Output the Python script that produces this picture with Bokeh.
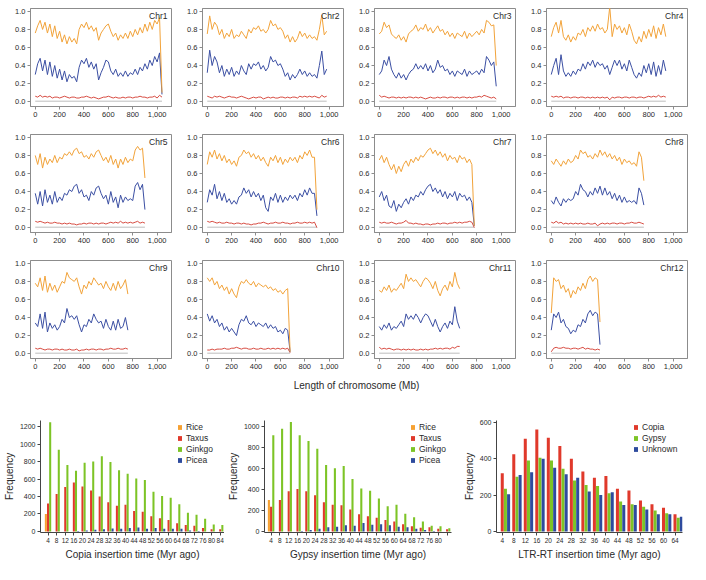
import numpy as np
from bokeh.plotting import figure
from bokeh.models import (ColumnDataSource, FixedTicker, PrintfTickFormatter,
                          NumeralTickFormatter, Label, Range1d, Legend, LegendItem)
from bokeh.layouts import column, row
from bokeh.embed import file_html
from bokeh.resources import INLINE
from bokeh.transform import dodge

FONT = "Liberation Sans"

# ---------------- Panel a data (20 Mb windows) ----------------
bin_mb = 20
chr_names = ["Chr1", "Chr2", "Chr3", "Chr4", "Chr5", "Chr6",
             "Chr7", "Chr8", "Chr9", "Chr10", "Chr11", "Chr12"]

chr1_orange = [0.76,0.84,0.90,0.80,0.88,0.76,0.86,0.72,0.84,0.70,0.78,0.66,0.74,0.64,0.72,0.66,0.70,0.64,0.80,0.86,
               0.82,0.88,0.80,0.84,0.78,0.82,0.68,0.76,0.80,0.84,0.86,0.78,0.72,0.76,0.68,0.74,0.70,0.76,0.70,0.78,
               0.72,0.80,0.74,0.82,0.76,0.86,0.78,0.88,0.80,0.90,0.86,0.93,0.10]
chr1_blue = [0.30,0.42,0.48,0.34,0.46,0.30,0.44,0.28,0.40,0.26,0.36,0.24,0.34,0.22,0.30,0.26,0.28,0.22,0.38,0.46,
             0.42,0.48,0.38,0.44,0.36,0.42,0.24,0.32,0.38,0.46,0.44,0.34,0.30,0.36,0.28,0.32,0.28,0.34,0.28,0.32,
             0.30,0.36,0.30,0.38,0.34,0.42,0.36,0.46,0.40,0.50,0.44,0.54,0.08]
chr1_red = [0.06,0.05,0.07,0.05,0.06,0.05,0.06,0.04,0.05,0.05,0.04,0.05,0.06,0.05,0.04,0.05,0.05,0.04,0.04,0.05,
            0.05,0.06,0.05,0.04,0.05,0.04,0.03,0.04,0.05,0.05,0.06,0.05,0.04,0.05,0.04,0.04,0.05,0.04,0.05,0.05,
            0.04,0.05,0.05,0.06,0.05,0.05,0.04,0.05,0.05,0.06,0.04,0.07,0.05]

chr2_orange = [0.75,0.95,0.80,0.88,0.84,0.74,0.80,0.70,0.76,0.72,0.80,0.70,0.74,0.72,0.78,0.74,0.70,0.80,0.76,0.82,
               0.80,0.84,0.78,0.80,0.76,0.80,0.90,0.84,0.86,0.80,0.82,0.78,0.70,0.74,0.66,0.72,0.66,0.70,0.78,0.72,
               0.76,0.70,0.74,0.70,0.72,0.68,0.80,0.96,0.74,0.78]
chr2_blue = [0.32,0.57,0.40,0.50,0.44,0.32,0.40,0.28,0.36,0.30,0.38,0.28,0.34,0.30,0.40,0.34,0.30,0.42,0.36,0.42,
             0.40,0.44,0.36,0.40,0.34,0.38,0.50,0.44,0.46,0.40,0.42,0.36,0.28,0.32,0.24,0.30,0.26,0.30,0.36,0.30,
             0.34,0.28,0.32,0.28,0.30,0.26,0.40,0.56,0.30,0.36]
chr2_red = [0.06,0.05,0.04,0.06,0.05,0.06,0.05,0.04,0.05,0.06,0.05,0.05,0.04,0.05,0.06,0.05,0.04,0.03,0.04,0.05,
            0.04,0.05,0.05,0.03,0.04,0.05,0.04,0.05,0.04,0.04,0.05,0.05,0.04,0.05,0.04,0.05,0.05,0.04,0.06,0.05,
            0.06,0.05,0.06,0.05,0.06,0.05,0.04,0.07,0.05,0.06]

chr3_orange = [0.75,0.78,0.88,0.82,0.85,0.75,0.72,0.70,0.74,0.68,0.72,0.66,0.75,0.78,0.80,0.85,0.78,0.82,0.80,0.86,
               0.78,0.82,0.76,0.80,0.84,0.78,0.80,0.74,0.78,0.72,0.76,0.70,0.76,0.74,0.72,0.78,0.70,0.76,0.72,0.75,
               0.78,0.74,0.80,0.76,0.90,0.88,0.84,0.85,0.40]
chr3_blue = [0.30,0.34,0.46,0.40,0.50,0.36,0.30,0.26,0.32,0.26,0.30,0.24,0.30,0.34,0.36,0.42,0.36,0.40,0.36,0.42,
             0.34,0.40,0.32,0.36,0.46,0.38,0.40,0.34,0.36,0.30,0.34,0.28,0.34,0.32,0.30,0.36,0.28,0.34,0.30,0.32,
             0.34,0.30,0.36,0.32,0.50,0.46,0.40,0.44,0.17]
chr3_red = [0.07,0.05,0.06,0.05,0.04,0.05,0.05,0.04,0.05,0.04,0.05,0.04,0.05,0.05,0.04,0.05,0.04,0.05,0.04,0.03,
            0.04,0.05,0.04,0.04,0.05,0.04,0.05,0.05,0.04,0.05,0.05,0.04,0.05,0.04,0.05,0.05,0.04,0.05,0.04,0.05,
            0.05,0.06,0.05,0.07,0.06,0.05,0.04,0.05,0.03]

chr4_orange = [0.72,0.82,0.88,0.76,0.90,0.72,0.68,0.74,0.66,0.72,0.68,0.76,0.74,0.80,0.72,0.82,0.78,0.84,0.78,0.86,
               0.80,0.82,0.76,0.80,1.05,0.72,0.86,0.80,0.84,0.76,0.82,0.74,0.86,0.78,0.68,0.64,0.72,0.66,0.78,0.70,
               0.80,0.72,0.84,0.70,0.82,0.74,0.86,0.72]
chr4_blue = [0.30,0.40,0.48,0.30,0.52,0.34,0.28,0.32,0.28,0.34,0.30,0.36,0.34,0.42,0.36,0.44,0.40,0.46,0.38,0.44,
             0.40,0.42,0.36,0.40,0.30,0.38,0.46,0.40,0.46,0.36,0.42,0.34,0.46,0.38,0.30,0.26,0.32,0.28,0.40,0.32,
             0.42,0.30,0.44,0.28,0.40,0.30,0.46,0.34]
chr4_red = [0.06,0.05,0.06,0.05,0.06,0.04,0.05,0.05,0.04,0.05,0.05,0.04,0.05,0.05,0.04,0.05,0.04,0.05,0.04,0.05,
            0.04,0.05,0.04,0.05,0.02,0.05,0.04,0.05,0.05,0.04,0.05,0.05,0.04,0.05,0.05,0.04,0.05,0.05,0.04,0.05,
            0.06,0.05,0.06,0.05,0.07,0.05,0.06,0.05]

chr5_orange = [0.80,0.70,0.82,0.66,0.78,0.70,0.76,0.72,0.80,0.72,0.78,0.76,0.82,0.80,0.84,0.80,0.86,0.88,0.82,0.84,
               0.78,0.80,0.76,0.82,0.78,0.84,0.86,0.80,0.74,0.78,0.72,0.80,0.70,0.76,0.66,0.76,0.70,0.78,0.72,0.76,
               0.74,0.86,0.90,0.86,0.88,0.55]
chr5_blue = [0.38,0.26,0.40,0.24,0.42,0.28,0.36,0.26,0.40,0.28,0.34,0.30,0.38,0.36,0.42,0.40,0.46,0.48,0.38,0.42,
             0.34,0.36,0.30,0.40,0.36,0.44,0.46,0.38,0.32,0.36,0.26,0.40,0.28,0.34,0.22,0.36,0.28,0.34,0.30,0.32,
             0.30,0.46,0.50,0.42,0.48,0.20]
chr5_red = [0.07,0.06,0.07,0.06,0.05,0.06,0.05,0.05,0.06,0.05,0.05,0.04,0.05,0.04,0.05,0.04,0.04,0.03,0.04,0.04,
            0.05,0.04,0.05,0.05,0.04,0.05,0.04,0.05,0.05,0.04,0.05,0.06,0.05,0.06,0.05,0.07,0.05,0.06,0.05,0.06,
            0.05,0.06,0.07,0.05,0.06,0.05]

chr6_orange = [0.70,0.84,0.78,0.86,0.76,0.82,0.74,0.80,0.72,0.76,0.70,0.74,0.68,0.78,0.80,0.86,0.82,0.84,0.78,0.82,
               0.76,0.80,0.74,0.78,0.72,0.68,0.78,0.74,0.80,0.72,0.78,0.70,0.76,0.72,0.78,0.74,0.78,0.72,0.80,0.76,
               0.84,0.80,0.86,0.78,0.78,0.20]
chr6_blue = [0.28,0.42,0.36,0.48,0.32,0.40,0.30,0.38,0.28,0.32,0.26,0.30,0.26,0.34,0.36,0.44,0.38,0.42,0.34,0.40,
             0.34,0.38,0.30,0.36,0.22,0.18,0.34,0.30,0.38,0.28,0.36,0.28,0.34,0.30,0.36,0.32,0.36,0.30,0.38,0.34,
             0.42,0.36,0.44,0.38,0.38,0.13]
chr6_red = [0.07,0.06,0.07,0.06,0.05,0.06,0.05,0.05,0.06,0.05,0.05,0.04,0.05,0.05,0.04,0.05,0.04,0.04,0.03,0.04,
            0.04,0.05,0.05,0.06,0.05,0.04,0.05,0.05,0.06,0.05,0.05,0.06,0.05,0.05,0.04,0.05,0.05,0.06,0.05,0.05,
            0.06,0.05,0.06,0.05,0.06,0.00]

chr7_orange = [0.75,0.80,0.72,0.78,0.70,0.64,0.70,0.60,0.68,0.62,0.70,0.74,0.68,0.76,0.72,0.78,0.74,0.80,0.78,0.82,
               0.86,0.88,0.82,0.86,0.80,0.84,0.78,0.82,0.74,0.80,0.76,0.78,0.72,0.80,0.76,0.78,0.72,0.76,0.70,0.02]
chr7_blue = [0.34,0.40,0.30,0.36,0.24,0.22,0.30,0.18,0.26,0.22,0.28,0.32,0.26,0.34,0.30,0.36,0.34,0.40,0.36,0.42,
             0.46,0.48,0.40,0.44,0.38,0.42,0.34,0.40,0.32,0.38,0.34,0.40,0.30,0.38,0.34,0.36,0.30,0.34,0.28,0.02]
chr7_red = [0.06,0.05,0.06,0.05,0.05,0.06,0.05,0.04,0.05,0.05,0.06,0.08,0.05,0.05,0.04,0.05,0.04,0.04,0.03,0.04,
            0.04,0.03,0.04,0.04,0.05,0.04,0.05,0.05,0.04,0.05,0.05,0.06,0.05,0.06,0.05,0.06,0.06,0.07,0.06,0.00]

chr8_orange = [0.74,0.70,0.76,0.72,0.68,0.74,0.70,0.76,0.72,0.74,0.80,0.76,0.86,0.82,0.84,0.78,0.80,0.76,0.82,0.78,
               0.86,0.80,0.84,0.78,0.82,0.76,0.80,0.74,0.78,0.70,0.76,0.72,0.74,0.70,0.72,0.68,0.84,0.78,0.52]
chr8_blue = [0.30,0.26,0.34,0.28,0.24,0.32,0.28,0.32,0.30,0.32,0.40,0.36,0.48,0.42,0.40,0.34,0.40,0.36,0.44,0.38,
             0.46,0.36,0.44,0.36,0.40,0.32,0.38,0.30,0.36,0.28,0.34,0.28,0.30,0.28,0.30,0.26,0.44,0.38,0.25]
chr8_red = [0.06,0.05,0.07,0.05,0.06,0.04,0.05,0.04,0.05,0.04,0.05,0.04,0.05,0.04,0.04,0.05,0.04,0.04,0.05,0.02,
            0.04,0.05,0.04,0.05,0.04,0.05,0.05,0.04,0.05,0.05,0.04,0.05,0.05,0.06,0.05,0.05,0.06,0.05,0.04]

chr9_orange = [0.78,0.74,0.84,0.70,0.86,0.68,0.78,0.70,0.76,0.68,0.74,0.80,0.78,0.90,0.84,0.82,0.80,0.84,0.74,0.66,
               0.76,0.72,0.80,0.76,0.84,0.80,0.76,0.78,0.72,0.80,0.74,0.70,0.78,0.70,0.80,0.72,0.76,0.82,0.66]
chr9_blue = [0.34,0.30,0.44,0.28,0.46,0.24,0.34,0.28,0.32,0.26,0.30,0.38,0.34,0.50,0.40,0.42,0.38,0.42,0.32,0.24,
             0.32,0.30,0.38,0.34,0.44,0.38,0.34,0.36,0.28,0.38,0.30,0.26,0.36,0.26,0.38,0.28,0.30,0.40,0.26]
chr9_red = [0.06,0.05,0.06,0.05,0.04,0.05,0.05,0.04,0.05,0.05,0.04,0.05,0.04,0.04,0.05,0.04,0.04,0.05,0.03,0.04,
            0.04,0.05,0.04,0.05,0.05,0.04,0.05,0.05,0.04,0.05,0.05,0.06,0.05,0.05,0.06,0.05,0.05,0.06,0.05]

chr10_orange = [0.84,0.80,0.84,0.76,0.80,0.72,0.76,0.70,0.74,0.66,0.72,0.66,0.62,0.74,0.80,0.78,0.82,0.78,0.76,0.80,
                0.74,0.78,0.76,0.74,0.76,0.72,0.74,0.70,0.72,0.68,0.70,0.66,0.70,0.72,0.02]
chr10_blue = [0.44,0.36,0.42,0.34,0.38,0.30,0.34,0.26,0.30,0.24,0.28,0.24,0.20,0.32,0.38,0.36,0.42,0.34,0.32,0.36,
              0.30,0.34,0.32,0.30,0.34,0.28,0.32,0.28,0.30,0.24,0.26,0.22,0.28,0.26,0.02]
chr10_red = [0.04,0.04,0.05,0.04,0.05,0.05,0.05,0.06,0.05,0.05,0.06,0.06,0.07,0.06,0.05,0.06,0.06,0.05,0.05,0.06,
             0.05,0.05,0.06,0.05,0.05,0.06,0.05,0.06,0.05,0.06,0.05,0.06,0.05,0.06,0.01]

chr11_orange = [0.70,0.68,0.74,0.70,0.76,0.68,0.72,0.70,0.74,0.78,0.72,0.88,0.80,0.84,0.80,0.82,0.78,0.74,0.80,0.84,
                0.82,0.78,0.72,0.80,0.70,0.64,0.72,0.76,0.70,0.80,0.74,0.90,0.78,0.72]
chr11_blue = [0.30,0.26,0.32,0.28,0.34,0.26,0.30,0.28,0.32,0.36,0.30,0.44,0.38,0.42,0.38,0.44,0.40,0.34,0.40,0.44,
              0.42,0.36,0.30,0.38,0.30,0.24,0.30,0.34,0.28,0.36,0.32,0.52,0.36,0.28]
chr11_red = [0.07,0.05,0.06,0.05,0.06,0.05,0.04,0.05,0.05,0.04,0.05,0.04,0.05,0.04,0.05,0.04,0.04,0.05,0.04,0.05,
             0.04,0.05,0.05,0.06,0.05,0.06,0.05,0.06,0.06,0.05,0.07,0.06,0.08,0.08]

chr12_orange = [0.45,0.84,0.80,0.82,0.72,0.76,0.68,0.72,0.62,0.70,0.66,0.74,0.70,0.78,0.72,0.82,0.86,0.80,0.84,0.82,0.35]
chr12_blue = [0.26,0.44,0.40,0.46,0.34,0.38,0.30,0.28,0.22,0.26,0.24,0.32,0.30,0.38,0.34,0.44,0.48,0.42,0.46,0.44,0.10]
chr12_red = [0.02,0.06,0.07,0.06,0.06,0.07,0.06,0.06,0.05,0.06,0.06,0.05,0.06,0.07,0.05,0.06,0.05,0.05,0.04,0.05,0.04]

grey_level = [0.005, 0.005, 0.005, 0.005, 0.005, 0.005, 0.005, 0.005, 0.005, 0.005, 0.005, 0.005]

orange_series = [chr1_orange, chr2_orange, chr3_orange, chr4_orange, chr5_orange, chr6_orange,
                 chr7_orange, chr8_orange, chr9_orange, chr10_orange, chr11_orange, chr12_orange]
blue_series = [chr1_blue, chr2_blue, chr3_blue, chr4_blue, chr5_blue, chr6_blue,
               chr7_blue, chr8_blue, chr9_blue, chr10_blue, chr11_blue, chr12_blue]
red_series = [chr1_red, chr2_red, chr3_red, chr4_red, chr5_red, chr6_red,
              chr7_red, chr8_red, chr9_red, chr10_red, chr11_red, chr12_red]

a_xticks = [0, 200, 400, 600, 800, 1000]
a_yticks = [0.0, 0.2, 0.4, 0.6, 0.8, 1.0]

# ---------------- Panel b, c, d data ----------------
bc_times = [4, 8, 12, 16, 20, 24, 28, 32, 36, 40, 44, 48, 52, 56, 60, 64, 68, 72, 76, 80, 84]
b_rice = [200, 0, 0, 0, 0, 0, 0, 0, 0, 0, 0, 0, 0, 0, 0, 0, 0, 0, 0, 0, 0]
b_taxus = [320, 430, 510, 560, 515, 470, 400, 335, 295, 305, 235, 225, 175, 150, 130, 95, 75, 65, 40, 25, 25]
b_ginkgo = [1250, 935, 760, 695, 785, 800, 860, 795, 700, 660, 605, 590, 455, 405, 385, 310, 215, 190, 145, 80, 75]
b_picea = [0, 0, 0, 5, 10, 20, 25, 35, 30, 40, 45, 30, 40, 30, 30, 30, 10, 5, 0, 0, 0]

c_rice = [300, 0, 0, 0, 0, 0, 0, 0, 0, 0, 0, 0, 0, 0, 0, 0, 0, 0, 0, 0, 0]
c_taxus = [235, 300, 385, 405, 385, 345, 280, 255, 250, 210, 165, 145, 130, 110, 95, 70, 50, 35, 40, 25, 20]
c_ginkgo = [920, 980, 1045, 920, 865, 790, 635, 605, 625, 500, 410, 390, 315, 240, 255, 170, 135, 95, 55, 50, 30]
c_picea = [0, 0, 0, 5, 15, 25, 40, 45, 60, 55, 80, 65, 70, 60, 45, 40, 25, 15, 5, 0, 0]

d_times = [4, 8, 12, 16, 20, 24, 28, 32, 36, 40, 44, 48, 52, 56, 60, 64]
d_copia = [320, 425, 510, 560, 515, 470, 400, 330, 295, 305, 235, 225, 170, 150, 130, 95]
d_gypsy = [235, 300, 390, 405, 390, 345, 280, 255, 250, 210, 165, 150, 135, 115, 100, 75]
d_unknown = [205, 310, 325, 400, 350, 315, 295, 220, 200, 215, 145, 145, 120, 95, 95, 80]

C_ORANGE = "#F2A33A"
C_BLUE = "#3B4FA3"
C_RED = "#D2382C"
C_GREY = "#BDBDBD"
B_RICE = "#F6A132"
B_TAXUS = "#E0392B"
B_GINKGO = "#7DC426"
B_PICEA = "#2E4B9E"
FRAME = "#8C8C8C"
TXT = "#2a2a2a"


def style_axes(p, color, size="7.5px"):
    for ax in (p.xaxis[0], p.yaxis[0]):
        ax.axis_line_color = color
        ax.major_tick_line_color = color
        ax.minor_tick_line_color = None
        ax.major_tick_out = 3
        ax.major_tick_in = 0
        ax.major_label_text_font = FONT
        ax.major_label_text_font_size = size
        ax.major_label_text_color = TXT
        ax.major_label_standoff = 2
        ax.axis_label_text_font = FONT
        ax.axis_label_text_font_style = "normal"
        ax.axis_label_text_font_size = "10px"
        ax.axis_label_text_color = TXT


# ---------------- Panel a ----------------
AW, AH = 172, 126
ABL, ABR, ABT, ABB = 30, 1, 8, 20
AX0, AX1 = -39, 1118
AY0, AY1 = -0.054, 1.032
AFW, AFH = AW - ABL - ABR, AH - ABT - ABB
adx = (AX1 - AX0) / AFW
ady = (AY1 - AY0) / AFH


def chr_fig(i):
    p = figure(width=AW, height=AH, x_range=Range1d(AX0, AX1), y_range=Range1d(AY0, AY1),
               output_backend="svg", toolbar_location=None,
               min_border_left=ABL, min_border_right=ABR, min_border_top=ABT, min_border_bottom=ABB)
    p.grid.visible = False
    p.outline_line_color = FRAME
    p.outline_line_width = 1
    style_axes(p, FRAME)
    p.xaxis.ticker = FixedTicker(ticks=a_xticks)
    p.xaxis.formatter = NumeralTickFormatter(format="0,0")
    p.yaxis.ticker = FixedTicker(ticks=a_yticks)
    p.yaxis.formatter = PrintfTickFormatter(format="%.1f")

    o = orange_series[i]
    b = blue_series[i]
    r = red_series[i]
    xo = np.arange(len(o)) * bin_mb
    xb = np.arange(len(b)) * bin_mb
    xr = np.arange(len(r)) * bin_mb
    p.line([0, xo[-1]], [grey_level[i], grey_level[i]], line_color=C_GREY, line_width=1)
    p.line(xr, r, line_color=C_RED, line_width=0.9)
    p.line(xb, b, line_color=C_BLUE, line_width=1)
    p.line(xo, o, line_color=C_ORANGE, line_width=1)

    p.add_layout(Label(x=AX1 - 4 * adx, y=AY1 - 2 * ady, text=chr_names[i], text_align="right",
                       text_baseline="top", text_font=FONT, text_font_size="8.5px", text_color=TXT))
    return p


a_figs = [chr_fig(i) for i in range(12)]
a_figs[0].add_layout(Label(x=AX0 - 29 * adx, y=AY1 + 8 * ady, text="a", text_align="left",
                           text_baseline="top", text_font=FONT, text_font_size="12px",
                           text_font_style="bold", text_color="#000000"))
a_figs[4].add_layout(Label(x=AX0 - 23 * adx, y=0.49, text="Proportion", angle=np.pi / 2,
                           text_align="center", text_baseline="middle", text_font=FONT,
                           text_font_size="10px", text_color=TXT))

xl = figure(width=690, height=14, x_range=Range1d(0, 690), y_range=Range1d(0, 14),
            output_backend="svg", toolbar_location=None, min_border=0,
            x_axis_location=None, y_axis_location=None)
xl.grid.visible = False
xl.outline_line_color = None
xl.add_layout(Label(x=356, y=7, text="Length of chromosome (Mb)", text_align="center",
                    text_baseline="middle", text_font=FONT, text_font_size="10px", text_color=TXT))

# ---------------- Bar panels ----------------
BH = 170
BBT, BBB = 28, 28


def bar_fig(W, BL, BR, xr, yr, letter, letter_dx, xlabel, xticks, yticks, times, series, names,
            colors, offsets, width, legend_x, label_over=None):
    fw = W - BL - BR
    fh = BH - BBT - BBB
    p = figure(width=W, height=BH, x_range=Range1d(*xr), y_range=Range1d(*yr),
               output_backend="svg", toolbar_location=None,
               min_border_left=BL, min_border_right=BR, min_border_top=BBT, min_border_bottom=BBB)
    p.grid.visible = False
    p.outline_line_color = None
    style_axes(p, "#444444")
    p.xaxis.major_label_text_font_size = "6.5px"
    p.yaxis.major_label_text_font_size = "7px"
    p.yaxis.axis_label = "Frequency"
    p.yaxis.axis_label_standoff = 2
    p.xaxis.axis_label = xlabel
    p.xaxis.axis_label_standoff = 3
    p.xaxis.ticker = FixedTicker(ticks=xticks)
    p.yaxis.ticker = FixedTicker(ticks=yticks)
    if label_over:
        p.xaxis.major_label_overrides = label_over
    data = {"t": times}
    for n, s in zip(names, series):
        data[n] = s
    src = ColumnDataSource(data)
    items = []
    for n, c, off in zip(names, colors, offsets):
        r = p.vbar(x=dodge("t", off, range=p.x_range), top=n, width=width, source=src,
                   fill_color=c, line_color=None)
        items.append(LegendItem(label=n, renderers=[r]))
    nitems = len(names)
    leg_h = nitems * 10 + (nitems - 1) * 1
    leg = Legend(items=items, location=(legend_x, fh - leg_h - 4), label_text_font=FONT,
                 label_text_font_size="8.5px", label_text_color=TXT, glyph_width=5, glyph_height=6,
                 label_height=9, label_standoff=4, spacing=1, padding=0, margin=0,
                 border_line_color=None, background_fill_alpha=0)
    p.add_layout(leg)
    dx = (xr[1] - xr[0]) / fw
    dy = (yr[1] - yr[0]) / fh
    p.add_layout(Label(x=xr[0] - letter_dx * dx, y=yr[1] + 22 * dy, text=letter, text_align="left",
                       text_baseline="top", text_font=FONT, text_font_size="12px",
                       text_font_style="bold", text_color="#000000"))
    return p


pb = bar_fig(224, 33, 0, (0.5, 86.0), (-12, 1270), "b", 33, "Copia insertion time (Myr ago)",
             bc_times, [0, 200, 400, 600, 800, 1000, 1200], bc_times,
             [b_rice, b_taxus, b_ginkgo, b_picea], ["Rice", "Taxus", "Ginkgo", "Picea"],
             [B_RICE, B_TAXUS, B_GINKGO, B_PICEA], [-1.0, 0.0, 1.0, 2.0], 0.95, 137)
pc = bar_fig(236, 30, 9, (1.0, 86.0), (-10, 1060), "c", 16, "Gypsy insertion time (Myr ago)",
             bc_times, [0, 200, 400, 600, 800, 1000], bc_times,
             [c_rice, c_taxus, c_ginkgo, c_picea], ["Rice", "Taxus", "Ginkgo", "Picea"],
             [B_RICE, B_TAXUS, B_GINKGO, B_PICEA], [-1.0, 0.0, 1.0, 2.0], 0.95, 146,
             label_over={84: ""})
pd = bar_fig(230, 30, 8, (2.0, 66.6), (-6, 610), "d", 10, "LTR-RT insertion time (Myr ago)",
             d_times, [0, 200, 400, 600], d_times,
             [d_copia, d_gypsy, d_unknown], ["Copia", "Gypsy", "Unknown"],
             [B_TAXUS, B_GINKGO, B_PICEA], [0.0, 1.1, 2.2], 1.05, 137)

layout = column(row(*a_figs[0:4]), row(*a_figs[4:8]), row(*a_figs[8:12]), xl, row(pb, pc, pd))

open("out.html", "w").write(file_html(layout, INLINE))
